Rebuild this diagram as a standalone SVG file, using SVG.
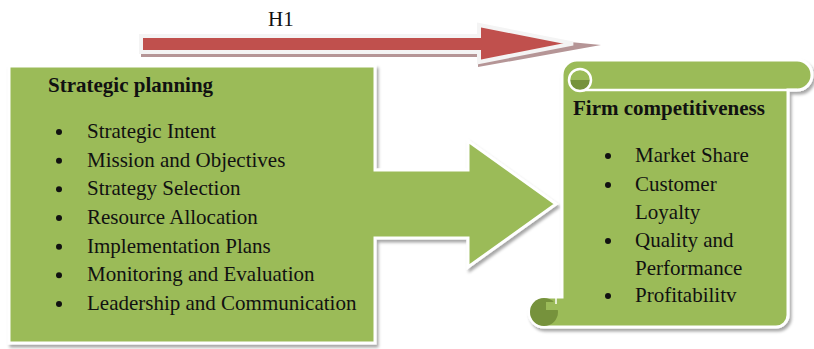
<svg xmlns="http://www.w3.org/2000/svg" width="814" height="349" viewBox="0 0 814 349">
  <defs>
    <filter id="shade" x="-5%" y="-5%" width="115%" height="120%">
      <feDropShadow dx="2" dy="3" stdDeviation="1.4" flood-color="#000" flood-opacity="0.35"/>
    </filter>
  </defs>
  <style>
    .green { fill: #9bbb59; stroke: #ffffff; stroke-width: 3; stroke-linejoin: miter; }
    .dark { fill: #76923c; }
    .red { fill: #c0504d; stroke: #f4f4f4; stroke-width: 4; }
    .redShadow { fill: #b59596; }
    text { font-family: "Liberation Serif", "Times New Roman", serif; font-size: 21px; fill: #111111; }
    .title { font-weight: bold; }
    .dot { fill: #111111; }
  </style>

  <!-- connectors: hypothesis arrow H1 -->
  <g id="connectors">
    <g id="h1-arrow">
      <path class="redShadow" d="M141,44 H478 V33 L601,45 L478,67 V57 H141 Z"/>
      <path class="red" d="M141,36 H479 V25 L573,43.5 L479,62 V52 H141 Z"/>
      <text x="268" y="26">H1</text>
    </g>
  </g>

  <!-- strategic planning block arrow -->
  <g id="strategic-planning">
    <path class="green" filter="url(#shade)" d="M9,66 H375 V170 H468 V141 L556,204 L468,267 V238 H375 V343 H9 Z"/>
    <text class="title" x="48" y="92">Strategic planning</text>
    <circle class="dot" cx="59" cy="132" r="3"/>
    <text x="87" y="138">Strategic Intent</text>
    <circle class="dot" cx="59" cy="160.7" r="3"/>
    <text x="87" y="166.7">Mission and Objectives</text>
    <circle class="dot" cx="59" cy="189.3" r="3"/>
    <text x="87" y="195.3">Strategy Selection</text>
    <circle class="dot" cx="59" cy="218" r="3"/>
    <text x="87" y="224">Resource Allocation</text>
    <circle class="dot" cx="59" cy="246.7" r="3"/>
    <text x="87" y="252.7">Implementation Plans</text>
    <circle class="dot" cx="59" cy="275.3" r="3"/>
    <text x="87" y="281.3">Monitoring and Evaluation</text>
    <circle class="dot" cx="59" cy="304" r="3"/>
    <text x="87" y="310">Leadership and Communication</text>
  </g>

  <!-- firm competitiveness scroll -->
  <g id="firm-competitiveness">
    <path class="green" filter="url(#shade)" d="M577,60 H797 A15,15 0 0 1 797,90 H788 V315 A12,12 0 0 1 776,327 H544 A15,15 0 0 1 529,312 A15,15 0 0 1 544,297 H562 V75 A15,15 0 0 1 577,60 Z"/>
    <!-- top roll edge and curl -->
    <path d="M580,90 H797" fill="none" stroke="#ffffff" stroke-width="2.5"/>
    <path class="dark" d="M569,80 A11,11 0 0 0 591,80 Z"/>
    <circle cx="580" cy="80" r="11" fill="none" stroke="#ffffff" stroke-width="2.5"/>
    <!-- bottom curl -->
    <circle class="dark" cx="544" cy="312" r="14"/>
    <path d="M546,302 H560 V310 H546 Z" fill="#9bbb59"/>
    <path d="M556,297 V304" stroke="#ffffff" stroke-width="1.5"/>
    <text class="title" x="573" y="115">Firm competitiveness</text>
    <circle class="dot" cx="608" cy="156" r="3"/>
    <text x="635" y="162">Market Share</text>
    <circle class="dot" cx="608" cy="185" r="3"/>
    <text x="635" y="191">Customer</text>
    <text x="635" y="219">Loyalty</text>
    <circle class="dot" cx="608" cy="241" r="3"/>
    <text x="635" y="247">Quality and</text>
    <text x="635" y="275">Performance</text>
    <circle class="dot" cx="608" cy="296" r="3"/>
    <text x="635" y="302">Profitabilitv</text>
  </g>
</svg>
